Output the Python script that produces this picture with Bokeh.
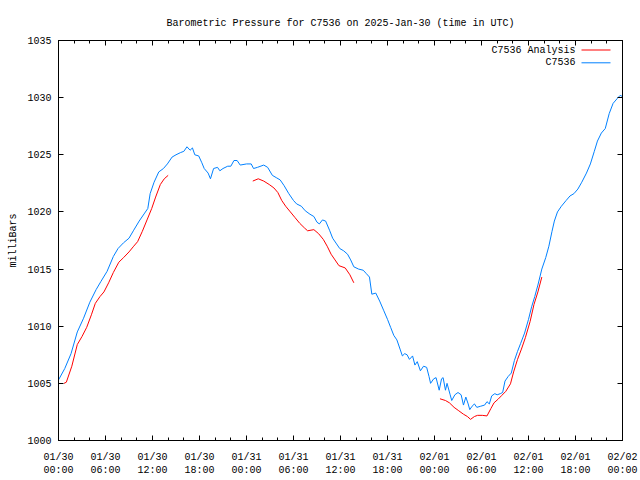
from bokeh.plotting import figure
from bokeh.models import (Range1d, FixedTicker, LinearAxis, Label, Arrow, CustomLabelingPolicy)
from bokeh.embed import file_html
from bokeh.resources import INLINE

# ---- data (hours since 2025-01-30 00:00 UTC, pressure in mb) ----
obs_hours = [0.0, 0.8, 1.6, 2.4, 3.2, 4.0, 4.8, 5.4, 6.2, 7.0, 7.6, 8.3, 9.0, 9.6, 10.3, 11.0, 11.4, 11.7,
             12.2, 12.8, 13.4, 13.9, 14.5, 15.0, 15.6, 16.0, 16.4, 16.8, 17.1, 17.4, 17.9, 18.3, 18.6, 19.1,
             19.4, 19.8, 20.3, 20.6, 21.0, 21.6, 22.0, 22.4, 22.8, 23.2, 24.0, 24.6, 24.9, 25.4, 26.2, 26.7,
             27.3, 27.8, 28.3, 28.8, 29.4, 30.0, 30.4, 31.0, 31.5, 32.1, 32.6, 33.0, 33.3, 33.7, 34.1, 34.6,
             35.0, 35.5, 35.9, 36.4, 36.9, 37.3, 37.7, 38.3, 38.9, 39.3, 39.7, 40.0, 40.5, 41.0, 41.5, 42.0,
             42.4, 42.8, 43.2, 43.6, 43.9, 44.2, 44.5, 44.8, 45.2, 45.5, 45.8, 46.2, 46.6, 47.0, 47.3, 47.5,
             47.9, 48.2, 48.6, 48.9, 49.1, 49.4, 49.6, 50.0, 50.2, 50.6, 51.0, 51.4, 51.7, 52.0, 52.3, 52.5,
             52.8, 53.1, 53.4, 53.9, 54.4, 54.7, 55.0, 55.3, 55.7, 56.0, 56.4, 56.7, 57.0, 57.4, 57.8, 58.2,
             58.6, 59.0, 59.5, 60.0, 60.4, 60.8, 61.2, 61.7, 62.2, 62.6, 63.0, 63.3, 63.7, 64.2, 64.8, 65.3,
             65.8, 66.3, 66.8, 67.4, 67.9, 68.4, 68.8, 69.3, 69.8, 70.3, 70.8, 71.3, 71.7, 72.0]
obs_press = [1005.3, 1006.3, 1007.6, 1009.5, 1010.7, 1012.1, 1013.2, 1013.9, 1014.8, 1016.1, 1016.8, 1017.3,
             1017.7, 1018.4, 1019.2, 1019.9, 1020.3, 1021.6, 1022.6, 1023.5, 1023.8, 1024.2, 1024.8, 1025.0,
             1025.2, 1025.3, 1025.7, 1025.4, 1025.6, 1025.0, 1024.9, 1024.3, 1023.8, 1023.4, 1022.9, 1023.8,
             1023.9, 1023.6, 1023.8, 1024.0, 1024.0, 1024.5, 1024.5, 1024.1, 1024.2, 1024.2, 1023.8, 1023.9,
             1024.1, 1023.9, 1023.2, 1023.0, 1022.8, 1022.3, 1021.6, 1021.0, 1020.7, 1020.5, 1020.1, 1019.8,
             1019.6, 1019.1, 1018.95, 1019.3, 1019.2, 1018.4, 1017.7, 1017.2, 1016.8, 1016.6, 1016.3, 1015.8,
             1015.2, 1015.0, 1014.9, 1014.6, 1014.3, 1012.8, 1012.9, 1012.2, 1011.4, 1010.6, 1009.9, 1009.2,
             1008.8, 1008.0, 1007.4, 1007.6, 1007.5, 1007.1, 1007.4, 1006.6, 1006.9, 1006.1, 1006.5, 1006.4,
             1005.6, 1005.0, 1005.4, 1005.5, 1004.4, 1005.4, 1005.5, 1004.4, 1005.0, 1004.0, 1003.5, 1004.0,
             1004.2, 1004.0, 1003.1, 1003.8, 1003.2, 1002.7, 1003.0, 1003.2, 1002.9, 1003.0, 1003.1, 1003.4,
             1003.2, 1003.9, 1004.1, 1004.0, 1004.1, 1004.2, 1005.2, 1005.6, 1005.9, 1007.0, 1007.8, 1008.5,
             1009.4, 1010.6, 1011.7, 1012.6, 1013.6, 1015.0, 1016.0, 1017.0, 1018.3, 1019.2, 1020.0, 1020.5,
             1021.0, 1021.4, 1021.6, 1022.0, 1022.6, 1023.4, 1024.2, 1025.3, 1026.2, 1026.9, 1027.3, 1028.6,
             1029.5, 1029.9, 1030.2, 1030.1]

ana1_hours = [0.7, 1.0, 1.7, 2.4, 3.0, 3.6, 4.2, 4.7, 5.3, 5.8, 6.4, 7.0, 7.7, 8.3, 9.0, 9.6, 10.1, 10.7,
              11.3, 11.9, 12.4, 13.0, 13.5, 14.0]
ana1_press = [1005.0, 1005.1, 1006.5, 1008.4, 1009.1, 1009.9, 1011.0, 1012.0, 1012.6, 1013.0, 1013.8, 1014.7,
              1015.6, 1016.0, 1016.5, 1017.0, 1017.4, 1018.3, 1019.3, 1020.3, 1021.3, 1022.4, 1022.9, 1023.2]
ana2_hours = [24.8, 25.5, 26.2, 26.9, 27.5, 28.0, 28.5, 29.0, 29.6, 30.2, 30.8, 31.4, 31.8, 32.6, 33.2, 33.8,
              34.3, 34.8, 35.3, 35.8, 36.6, 37.2, 37.7]
ana2_press = [1022.7, 1022.9, 1022.7, 1022.4, 1022.1, 1021.7, 1021.0, 1020.5, 1020.0, 1019.5, 1019.0, 1018.6,
              1018.35, 1018.45, 1018.1, 1017.6, 1017.0, 1016.3, 1015.8, 1015.3, 1015.1, 1014.5, 1013.8]
ana3_hours = [48.7, 49.4, 49.9, 50.5, 51.1, 51.7, 52.2, 52.6, 53.1, 53.5, 54.1, 54.7, 55.2, 55.6, 56.1, 56.6,
              57.1, 57.7, 58.1, 58.6, 59.1, 59.6, 60.2, 60.7, 61.2, 61.7]
ana3_press = [1003.65, 1003.5, 1003.3, 1002.9, 1002.6, 1002.3, 1002.1, 1001.85, 1002.1, 1002.2, 1002.2, 1002.15,
              1002.8, 1003.3, 1003.6, 1003.95, 1004.3, 1004.96, 1006.0, 1007.1, 1008.0, 1009.0, 1010.4, 1011.9,
              1013.0, 1014.3]

x_ticks = [0, 6, 12, 18, 24, 30, 36, 42, 48, 54, 60, 66, 72]
x_tick_labels = ["01/30\n00:00", "01/30\n06:00", "01/30\n12:00", "01/30\n18:00",
                 "01/31\n00:00", "01/31\n06:00", "01/31\n12:00", "01/31\n18:00",
                 "02/01\n00:00", "02/01\n06:00", "02/01\n12:00", "02/01\n18:00",
                 "02/02\n00:00"]
x_minor = [0, 2, 4, 6, 8, 10, 12, 14, 16, 18, 20, 22, 24, 26, 28, 30, 32, 34, 36, 38, 40, 42, 44, 46,
           48, 50, 52, 54, 56, 58, 60, 62, 64, 66, 68, 70, 72]
y_ticks = [1000, 1005, 1010, 1015, 1020, 1025, 1030, 1035]

title_text = "Barometric Pressure for C7536 on 2025-Jan-30 (time in UTC)"
y_label = "milliBars"
series_names = ["C7536 Analysis", "C7536"]

RED = "#ff0000"
BLUE = "#0080ff"
FONT = "Liberation Mono"
FS = "10px"

nan = float("nan")
ana_hours = ana1_hours + [nan] + ana2_hours + [nan] + ana3_hours
ana_press = ana1_press + [nan] + ana2_press + [nan] + ana3_press

p = figure(width=640, height=480, output_backend="svg", toolbar_location=None,
           x_range=Range1d(0, 72), y_range=Range1d(1000, 1035),
           x_axis_location=None, y_axis_location=None,
           min_border_left=58, min_border_right=18, min_border_top=40, min_border_bottom=40)
p.background_fill_color = "white"
p.border_fill_color = "white"
p.outline_line_color = "black"
p.grid.visible = False

p.title.text = title_text
p.title.align = "center"
p.title.text_font = FONT
p.title.text_font_size = FS
p.title.text_font_style = "normal"
p.title.text_color = "black"
p.title.standoff = 15

no_labels = CustomLabelingPolicy(code="return new Set()")


def style_axis(ax, show_labels):
    ax.axis_line_color = "black"
    ax.major_tick_in = 5
    ax.major_tick_out = 0
    ax.minor_tick_in = 3
    ax.minor_tick_out = 0
    ax.major_tick_line_color = "black"
    ax.minor_tick_line_color = "black"
    ax.major_label_text_font = FONT
    ax.major_label_text_color = "black"
    if show_labels:
        ax.major_label_text_font_size = FS
        ax.major_label_standoff = 7
    else:
        # mirror axis: ticks only, no labels drawn
        ax.major_label_policy = no_labels
        ax.major_label_text_font_size = "1px"
        ax.major_label_standoff = 0


xb = LinearAxis(ticker=FixedTicker(ticks=x_ticks, minor_ticks=x_minor),
                major_label_overrides=dict(zip(x_ticks, x_tick_labels)))
style_axis(xb, True)
xb.major_label_standoff = 11
p.add_layout(xb, "below")

xt = LinearAxis(ticker=FixedTicker(ticks=x_ticks, minor_ticks=x_minor))
style_axis(xt, False)
p.add_layout(xt, "above")

yl = LinearAxis(ticker=FixedTicker(ticks=y_ticks, minor_ticks=[]), axis_label=y_label)
style_axis(yl, True)
yl.axis_label_text_font = FONT
yl.axis_label_text_font_size = FS
yl.axis_label_text_font_style = "normal"
yl.axis_label_text_color = "black"
yl.axis_label_standoff = 5
p.add_layout(yl, "left")

yr = LinearAxis(ticker=FixedTicker(ticks=y_ticks, minor_ticks=[]))
style_axis(yr, False)
p.add_layout(yr, "right")

p.line(ana_hours, ana_press, line_color=RED, line_width=1)
p.line(obs_hours, obs_press, line_color=BLUE, line_width=1)

# gnuplot-style key: label text, then the line sample to its right
for i, (name, col) in enumerate(zip(series_names, [RED, BLUE])):
    yk = 390.5 - 12.8 * i
    p.add_layout(Label(x=517, y=yk, x_units="screen", y_units="screen",
                       text=name, text_align="right", text_baseline="middle",
                       text_font=FONT, text_font_size=FS, text_color="black"))
    p.add_layout(Arrow(end=None, x_start=523, y_start=yk, x_end=552, y_end=yk,
                       start_units="screen", end_units="screen",
                       line_color=col, line_width=1))

open("out.html", "w").write(file_html(p, INLINE))
